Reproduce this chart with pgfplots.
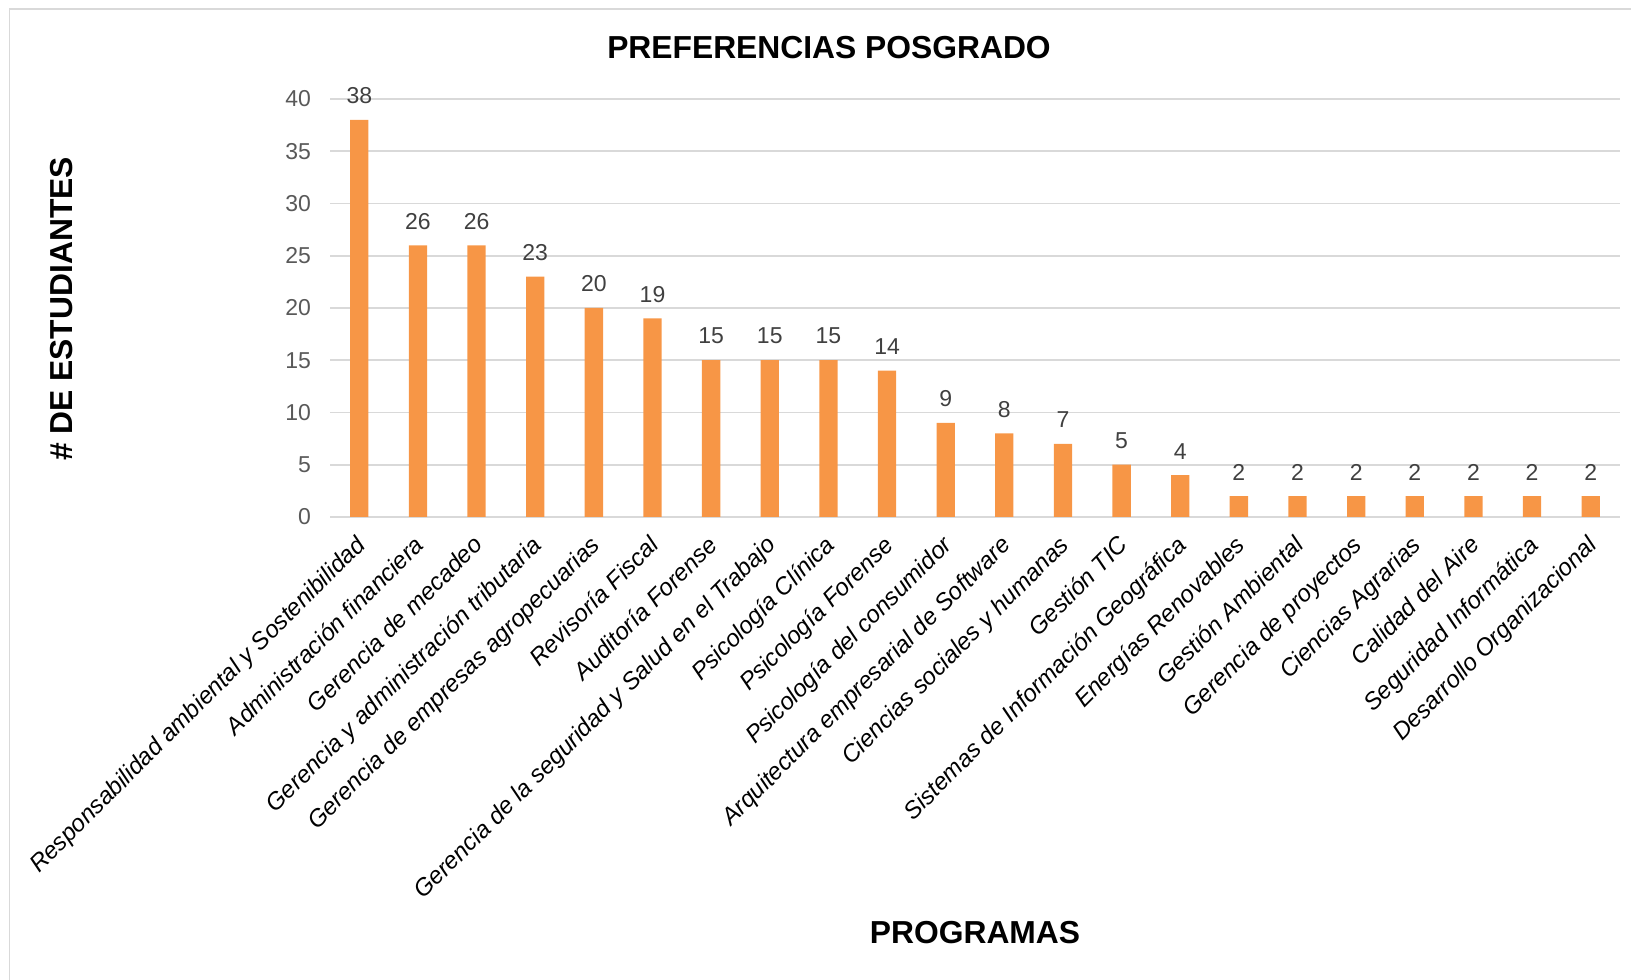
\documentclass[border=0pt]{standalone}
\usepackage{fontspec}
\setmainfont{Liberation Sans}
\usepackage{pgfplots}
\pgfplotsset{compat=1.18}
\definecolor{barorange}{HTML}{F79646}
\definecolor{gridgray}{HTML}{D9D9D9}
\definecolor{ticktxt}{HTML}{595959}
\definecolor{lbltxt}{HTML}{404040}
\begin{document}
\begin{tikzpicture}[x=1pt,y=1pt]
\useasboundingbox (0,0) rectangle (815.5,489.5);
\draw[gridgray, line width=0.6pt] (4.75,-2) -- (4.75,485) -- (820,485);
\begin{axis}[
  at={(165pt,231pt)}, anchor=south west,
  scale only axis, width=645pt, height=209pt,
  xmin=-0.5, xmax=21.5, ymin=0, ymax=40,
  ytick={0,5,...,40},
  xtick={0,...,21},
  xticklabels={Responsabilidad ambiental y Sostenibilidad,Administración financiera,Gerencia de mecadeo,Gerencia y administración tributaria,Gerencia de empresas agropecuarias,Revisoría Fiscal,Auditoría Forense,Gerencia de la seguridad y Salud en el Trabajo,Psicología Clínica,Psicología Forense,Psicología del consumidor,Arquitectura empresarial de Software,Ciencias sociales y humanas,Gestión TIC,Sistemas de Información Geográfica,Energías Renovables,Gestión Ambiental,Gerencia de proyectos,Ciencias Agrarias,Calidad del Aire,Seguridad Informática,Desarrollo Organizacional},
  axis line style={draw=none},
  major tick length=0pt,
  ymajorgrids, grid style={gridgray, line width=0.9pt},
  /pgf/number format/assume math mode=true,
  yticklabel style={font=\fontsize{11.5}{13}\selectfont, text=ticktxt, xshift=-6pt},
  xticklabel style={font=\fontsize{12}{14}\selectfont\itshape, text=black, rotate=45, anchor=north east, xshift=-6.65pt, yshift=-3.1pt, inner sep=1pt},
  clip=false,
]
\addplot[ybar, bar width=9.15pt, fill=barorange, draw=none,
  nodes near coords,
  every node near coord/.append style={font=\fontsize{11.5}{13}\selectfont, text=lbltxt, yshift=4.5pt}]
  coordinates {(0,38) (1,26) (2,26) (3,23) (4,20) (5,19) (6,15) (7,15) (8,15) (9,14) (10,9) (11,8) (12,7) (13,5) (14,4) (15,2) (16,2) (17,2) (18,2) (19,2) (20,2) (21,2)};
\end{axis}
\node[font=\fontsize{15.9}{18}\selectfont\bfseries] at (414.5,465.5) {PREFERENCIAS POSGRADO};
\node[font=\fontsize{15.9}{18}\selectfont\bfseries, rotate=90] at (31,335) {\# DE ESTUDIANTES};
\node[font=\fontsize{15.9}{18}\selectfont\bfseries] at (487.5,23) {PROGRAMAS};
\end{tikzpicture}
\end{document}
